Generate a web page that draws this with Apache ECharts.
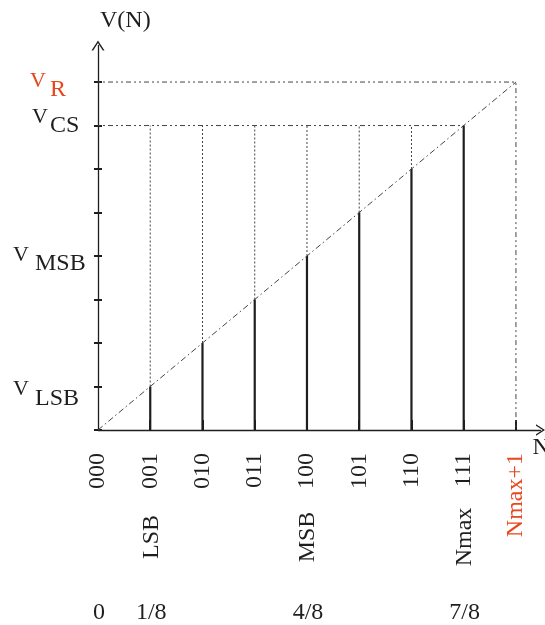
<!DOCTYPE html>
<html><head><meta charset="utf-8">
<script src="https://cdn.jsdelivr.net/npm/echarts@6/dist/echarts.min.js"></script>
<style>html,body{margin:0;padding:0;background:#fff}#c{width:545px;height:625px}</style>
</head><body><div id="c"></div>
<script>
// ---- data ----
const codes = ['000','001','010','011','100','101','110','111','Nmax+1'];
const codePositions = [0,1,2,3,4,5,6,7,8];
const barPositions = [1,2,3,4,5,6,7];
const barLevels = [1,2,3,4,5,6,7];          // V(N) in units of V_R/8
const vR = 8;
const vCS = 7;
const yTickValues = [0,1,2,3,4,5,6,7,8];
const yLabelValues = [8,7,4,1];
const yLabelMain = ['V','V','V','V'];
const yLabelSub = ['R','CS','MSB','LSB'];
const roleLabels = ['LSB','MSB','Nmax'];
const rolePositions = [1,4,7];
const fracLabels = ['0','1/8','4/8','7/8'];
const fracPositions = [0,1,4,7];

// ---- style ----
const FONT = "'Liberation Serif','Times New Roman',serif";
const RED = '#e8461c';
const INK = '#1e1e1e';
const GUIDE = '#444';
// per-label offsets [mainDx, mainDy, subDx, subDy] relative to the tick point
const yLabelOffsets = [[-68,-1,-48,8],[-66,-8,-48,0],[-85,-1,-63,8],[-85,3,-63,12]];
const yLabelColors = [RED, INK, INK, INK];
const arrowUp = 'path://M0,10 L6.5,0 L13,10 L11.3,10 L6.5,2.6 L1.7,10 Z';

const chart = echarts.init(document.getElementById('c'), null, {renderer:'canvas'});

const guideSeries = [];
guideSeries.push({type:'line', silent:true, showSymbol:false, symbol:'none', animation:false,
  data:[[0,0],[vR,vR]], lineStyle:{color:GUIDE, width:1, type:[6,3,1.5,3]}});
guideSeries.push({type:'line', silent:true, showSymbol:false, symbol:'none', animation:false,
  data:[[0,vR],[vR,vR],[vR,0]], lineStyle:{color:GUIDE, width:1, type:[2,3,2,3,5,3]}});
guideSeries.push({type:'line', silent:true, showSymbol:false, symbol:'none', animation:false,
  data:[[0,vCS],[barPositions[barPositions.length-1],vCS]], lineStyle:{color:GUIDE, width:1, type:[2,3,2,3,5,3]}});
barPositions.forEach(function(p,i){
  if (barLevels[i] < vCS) {
    guideSeries.push({type:'line', silent:true, showSymbol:false, symbol:'none', animation:false,
      data:[[p,barLevels[i]],[p,vCS]], lineStyle:{color:GUIDE, width:1, type:[2,2]}});
  }
});

const option = {
  animation:false,
  backgroundColor:'#fff',
  grid:{left:98, right:4.5, top:45.5, bottom:195, containLabel:false, outerBoundsMode:'none'},
  xAxis:[{
    type:'value', min:0, max:8.47, position:'bottom',
    axisLine:{show:true, lineStyle:{color:INK, width:1.3}, symbol:['none', arrowUp], symbolSize:[13,9]},
    axisTick:{show:true, inside:true, length:10, customValues:codePositions.slice(1), lineStyle:{color:INK, width:2}},
    splitLine:{show:false},
    axisLabel:{show:true, customValues:codePositions, rotate:90, margin:23,
      fontSize:24, fontFamily:FONT, color:INK,
      formatter:function(v){ const i = codePositions.indexOf(v); const t = codes[i];
        return t === 'Nmax+1' ? '{r|' + t + '}' : t; },
      rich:{r:{color:RED, fontSize:24, fontFamily:FONT}}},
    name:'N', nameLocation:'end', nameGap:-8,
    nameTextStyle:{fontSize:24, fontFamily:FONT, color:INK, align:'left', verticalAlign:'top', padding:[6,0,0,0]}
  }],
  yAxis:[{
    type:'value', min:0, max:8.84, position:'left',
    axisLine:{show:true, lineStyle:{color:INK, width:1.3}, symbol:['none', arrowUp], symbolSize:[13,11]},
    axisTick:{show:true, inside:true, length:4, customValues:yTickValues, lineStyle:{color:INK, width:2}},
    splitLine:{show:false},
    axisLabel:{show:false},
    name:'V(N)', nameLocation:'end', nameGap:13,
    nameTextStyle:{fontSize:24, fontFamily:FONT, color:INK, align:'left', padding:[0,0,0,2]}
  },{
    type:'value', min:0, max:8.84, position:'left', offset:0,
    axisLine:{show:false},
    axisTick:{show:true, inside:false, length:4, customValues:yTickValues, lineStyle:{color:INK, width:2}},
    splitLine:{show:false},
    axisLabel:{show:false}
  }],
  series: guideSeries.concat([
    {type:'bar', silent:true, barWidth:2.2, animation:false,
     data: barPositions.map(function(p,i){ return [p, barLevels[i]]; }),
     itemStyle:{color:INK}},
    {type:'custom', silent:true, clip:false, animation:false,
     data: yLabelValues.map(function(v){ return [0, v]; }),
     renderItem:function(params, api){
       const i = params.dataIndex;
       const pt = api.coord([0, api.value(1)]);
       const o = yLabelOffsets[i];
       return {type:'group', children:[
         {type:'text', x:pt[0]+o[0], y:pt[1]+o[1], style:{text:yLabelMain[i], fill:yLabelColors[i], font:'22px ' + FONT, align:'left', verticalAlign:'middle'}},
         {type:'text', x:pt[0]+o[2], y:pt[1]+o[3], style:{text:yLabelSub[i], fill:yLabelColors[i], font:'24px ' + FONT, align:'left', verticalAlign:'middle'}}
       ]};
     }},
    {type:'custom', silent:true, clip:false, animation:false,
     data: rolePositions.map(function(p){ return [p, 0]; }),
     renderItem:function(params, api){
       const pt = api.coord([api.value(0), 0]);
       return {type:'text', x:pt[0]+1, y:pt[1]+107, rotation:Math.PI/2,
         style:{text:roleLabels[params.dataIndex], fill:INK, font:'24px ' + FONT, align:'center', verticalAlign:'middle'}};
     }},
    {type:'custom', silent:true, clip:false, animation:false,
     data: fracPositions.map(function(p){ return [p, 0]; }),
     renderItem:function(params, api){
       const pt = api.coord([api.value(0), 0]);
       return {type:'text', x:pt[0]+1, y:pt[1]+183,
         style:{text:fracLabels[params.dataIndex], fill:INK, font:'24px ' + FONT, align:'center', verticalAlign:'middle'}};
     }}
  ])
};
chart.setOption(option);
</script>
</body></html>
